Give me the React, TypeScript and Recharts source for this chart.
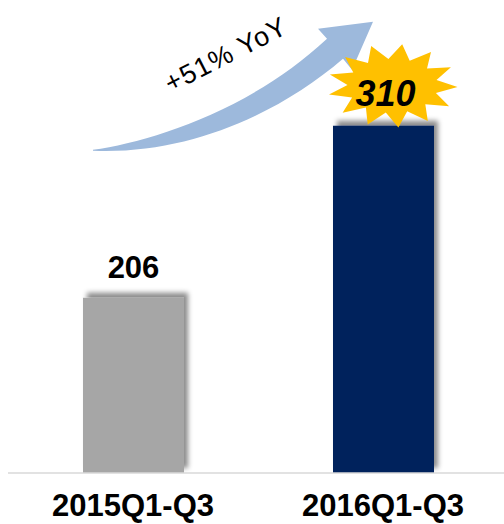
import React from "react";
import { BarChart, Bar, XAxis, YAxis, Cell, LabelList } from "recharts";

const categories = ["2015Q1-Q3", "2016Q1-Q3"];
const values = [206, 310];
const barColors = ["#A6A6A6", "#04205C"];
const growthLabel = "+51% YoY";

const data = categories.map((c, i) => ({ cat: c, value: values[i] }));

const FONT = "Arial, 'Liberation Sans', sans-serif";

function starPoints(cx: number, cy: number, n: number, rxo: number, ryo: number, rxi: number, ryi: number) {
  const pts: string[] = [];
  for (let i = 0; i < n * 2; i++) {
    const a = (Math.PI * i) / n - Math.PI / 2 + 0.15;
    const outer = i % 2 === 0;
    const rx = outer ? rxo : rxi;
    const ry = outer ? ryo : ryi;
    pts.push(`${(cx + rx * Math.cos(a)).toFixed(1)},${(cy + ry * Math.sin(a)).toFixed(1)}`);
  }
  return pts.join(" ");
}

const ValueLabel = (props: any) => {
  const { x, y, width, value, index } = props;
  const cx = x + width / 2;
  if (index === 0) {
    return (
      <text x={cx} y={y - 20} textAnchor="middle" fontFamily={FONT} fontWeight="bold" fontSize={31} fill="#000">
        {value}
      </text>
    );
  }
  const ox = cx;
  const oy = y;
  const p = (dx: number, dy: number) => `${(ox + dx).toFixed(1)},${(oy + dy).toFixed(1)}`;
  const arrow =
    `M${p(93 - 383.5, 149 - 125)} ` +
    `C${p(150 - 383.5, 141 - 125)} ${p(250 - 383.5, 110 - 125)} ${p(327 - 383.5, 38 - 125)} ` +
    `L${p(318 - 383.5, 28 - 125)} L${p(373 - 383.5, 21 - 125)} L${p(352 - 383.5, 69 - 125)} L${p(343 - 383.5, 58 - 125)} ` +
    `C${p(280 - 383.5, 112 - 125)} ${p(190 - 383.5, 154 - 125)} ${p(93 - 383.5, 150 - 125)} Z`;
  const tx = ox + (230 - 383.5);
  const ty = oy + (62 - 125);
  return (
    <g>
      <path d={arrow} fill="#9DB9DC" />
      <text
        x={tx}
        y={ty}
        textAnchor="middle"
        fontFamily={FONT}
        fontSize={27}
        letterSpacing={1}
        fill="#000"
        transform={`rotate(-27 ${tx} ${ty})`}
      >
        {growthLabel}
      </text>
      <polygon points={starPoints(cx + 9, y - 40, 13, 65, 42, 45, 27)} fill="#FFC000" />
      <text x={cx + 2} y={y - 20} textAnchor="middle" fontFamily={FONT} fontWeight="bold" fontStyle="italic" fontSize={36} fill="#000">
        {value}
      </text>
    </g>
  );
};

const CatTick = (props: any) => {
  const { x, y, payload } = props;
  return (
    <text x={x} y={y} dy={43} textAnchor="middle" fontFamily={FONT} fontWeight="bold" fontSize={31} fill="#000">
      {payload.value}
    </text>
  );
};

export default function App() {
  return (
    <div style={{ position: "absolute", left: 0, top: 0, width: 504, height: 524, background: "#fff" }}>
      <BarChart width={504} height={524} data={data} margin={{ top: 10, right: -4, bottom: 0, left: 8 }}>
        <defs>
          <filter id="barShadow" x="-20%" y="-20%" width="140%" height="140%">
            <feDropShadow dx={4} dy={-5} stdDeviation={2.5} floodColor="#000" floodOpacity={0.45} />
          </filter>
        </defs>
        <XAxis
          dataKey="cat"
          axisLine={{ stroke: "#D9D9D9", strokeWidth: 1.5 }}
          tickLine={false}
          tickSize={0}
          tickMargin={0}
          height={51}
          interval={0}
          tick={<CatTick />}
        />
        <YAxis hide domain={[100, 380]} />
        <Bar dataKey="value" barSize={101} isAnimationActive={false}>
          {data.map((d, i) => (
            <Cell key={d.cat} fill={barColors[i]} filter="url(#barShadow)" />
          ))}
          <LabelList dataKey="value" content={<ValueLabel />} />
        </Bar>
      </BarChart>
    </div>
  );
}
